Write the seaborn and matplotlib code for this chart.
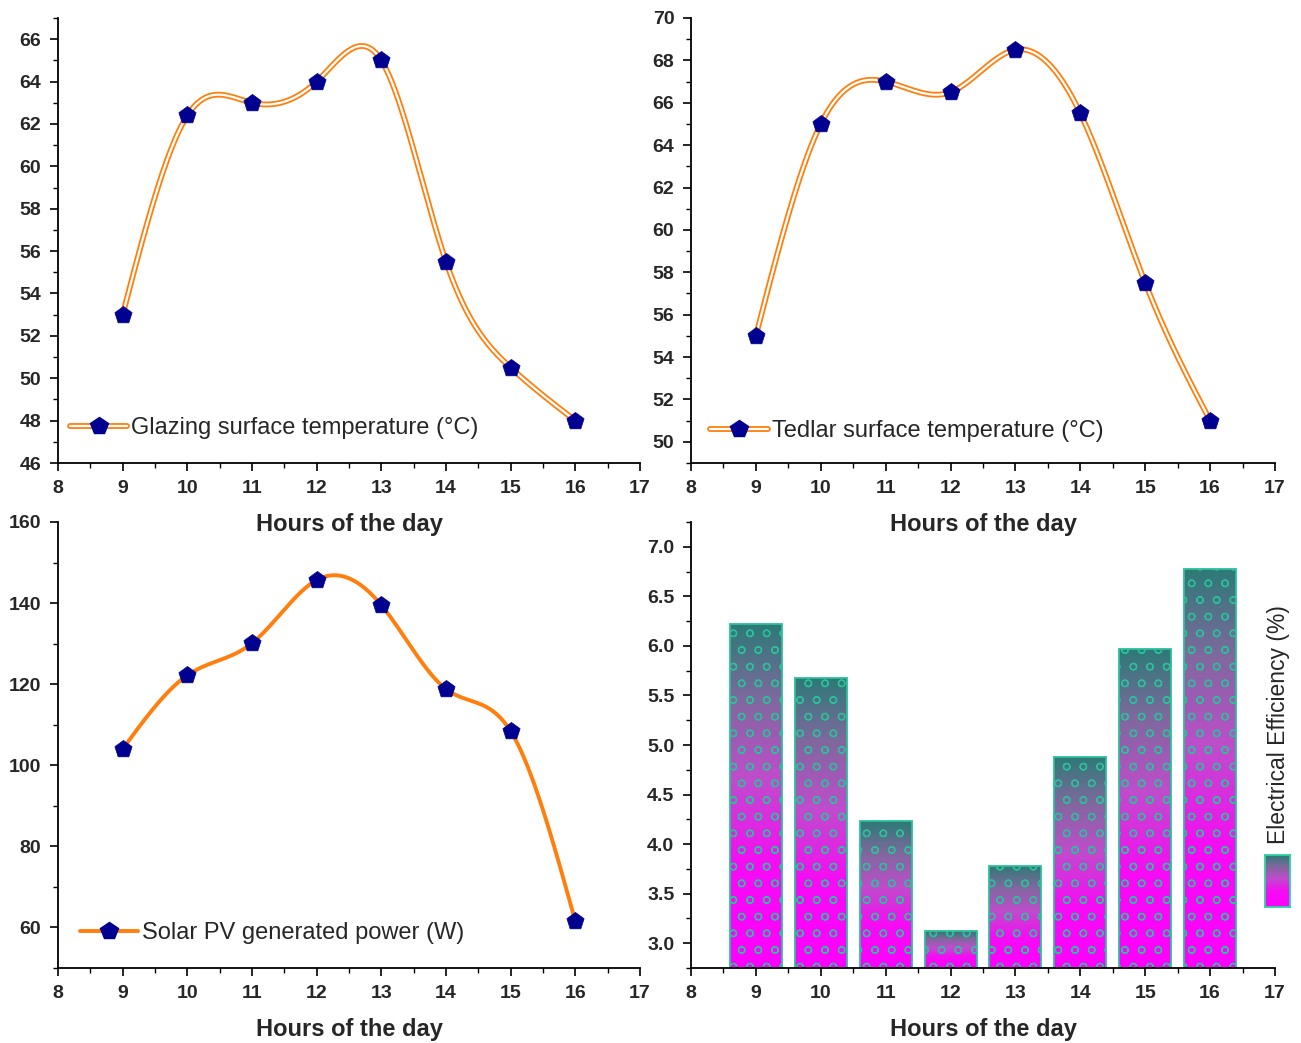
import numpy as np
import matplotlib
matplotlib.use("Agg")
import matplotlib.pyplot as plt
import seaborn as sns
import pandas as pd
from matplotlib.lines import Line2D
from matplotlib.legend_handler import HandlerTuple
from matplotlib.colors import LinearSegmentedColormap
from matplotlib.ticker import MultipleLocator, FormatStrFormatter

# ---------------- data ----------------
hours = [9, 10, 11, 12, 13, 14, 15, 16]
glazing_temp = [53.0, 62.4, 63.0, 64.0, 65.0, 55.5, 50.5, 48.0]
tedlar_temp = [55.0, 65.0, 67.0, 66.5, 68.5, 65.5, 57.5, 51.0]
pv_power = [104.0, 122.2, 130.1, 145.7, 139.5, 118.8, 108.4, 61.5]
efficiency = [6.22, 5.68, 4.23, 3.12, 3.78, 4.88, 5.97, 6.78]

label_glazing = "Glazing surface temperature (°C)"
label_tedlar = "Tedlar surface temperature (°C)"
label_power = "Solar PV generated power (W)"
label_eff = "Electrical Efficiency (%)"
xlabel = "Hours of the day"

sns.set_theme(style="white")
plt.rcParams["font.family"] = ["Liberation Sans", "DejaVu Sans"]
plt.rcParams["hatch.linewidth"] = 0.9

ORANGE = "#ff7f0e"
NAVY = "#000090"


def natural_spline(x, y, n=300):
    x = np.asarray(x, float)
    y = np.asarray(y, float)
    m = len(x)
    h = np.diff(x)
    A = np.zeros((m, m))
    b = np.zeros(m)
    A[0, 0] = A[-1, -1] = 1
    for i in range(1, m - 1):
        A[i, i - 1] = h[i - 1]
        A[i, i] = 2 * (h[i - 1] + h[i])
        A[i, i + 1] = h[i]
        b[i] = 3 * ((y[i + 1] - y[i]) / h[i] - (y[i] - y[i - 1]) / h[i - 1])
    c = np.linalg.solve(A, b)
    xs = np.linspace(x[0], x[-1], n)
    idx = np.clip(np.searchsorted(x, xs) - 1, 0, m - 2)
    dx = xs - x[idx]
    bb = (y[idx + 1] - y[idx]) / h[idx] - h[idx] * (2 * c[idx] + c[idx + 1]) / 3
    d = (c[idx + 1] - c[idx]) / (3 * h[idx])
    ys = y[idx] + bb * dx + c[idx] * dx ** 2 + d * dx ** 3
    return xs, ys


fig = plt.figure(figsize=(13.01, 10.43), dpi=100)
W, H = 1301, 1043


def ax_at(l, r, t, b):
    ax = fig.add_axes([l / W, 1 - b / H, (r - l) / W, (b - t) / H])
    ax.set_facecolor("none")
    return ax


ax1 = ax_at(58, 640, 18, 463)
ax2 = ax_at(691, 1275, 18, 463)
ax3 = ax_at(58, 640, 522, 968)
ax4 = ax_at(691, 1275, 522, 968)


def style_axis(ax, ylim, ymaj, ymin, fmt=None):
    ax.set_xlim(8, 17)
    ax.set_ylim(*ylim)
    ax.xaxis.set_major_locator(MultipleLocator(1))
    ax.xaxis.set_minor_locator(MultipleLocator(0.5))
    ax.yaxis.set_major_locator(MultipleLocator(ymaj))
    ax.yaxis.set_minor_locator(MultipleLocator(ymin))
    if fmt:
        ax.yaxis.set_major_formatter(FormatStrFormatter(fmt))
    for s in ["top", "right"]:
        ax.spines[s].set_visible(False)
    for s in ["left", "bottom"]:
        ax.spines[s].set_color("black")
        ax.spines[s].set_linewidth(1.3)
    ax.tick_params(which="major", direction="out", length=6, width=1.2,
                   color="black", labelsize=14, pad=6,
                   bottom=True, left=True)
    ax.tick_params(which="minor", direction="out", length=3.5, width=1.0,
                   color="black", bottom=True, left=True)
    for lab in ax.get_xticklabels() + ax.get_yticklabels():
        lab.set_fontweight("bold")
    ax.set_xlabel(xlabel, fontsize=17, fontweight="bold", labelpad=12)
    ax.set_ylabel("")
    ax.grid(False)


def line_panel(ax, yvals, label, double, ylim, ymaj, ymin, leg_anchor):
    xs, ys = natural_spline(hours, yvals)
    dfl = pd.DataFrame({"x": xs, "y": ys})
    sns.lineplot(data=dfl, x="x", y="y", ax=ax, color=ORANGE,
                 linewidth=4.2 if double else 2.8, zorder=2)
    if double:
        sns.lineplot(data=dfl, x="x", y="y", ax=ax, color="white",
                     linewidth=1.6, zorder=3)
    dfp = pd.DataFrame({"x": hours, "y": yvals})
    sns.scatterplot(data=dfp, x="x", y="y", ax=ax, marker="p", s=170,
                    color=NAVY, edgecolor=NAVY, linewidth=0.5, zorder=4)
    style_axis(ax, ylim, ymaj, ymin)
    if double:
        h = (Line2D([], [], color=ORANGE, lw=4.2),
             Line2D([], [], color="white", lw=1.6),
             Line2D([], [], ls="none", marker="p", ms=13, color=NAVY))
    else:
        h = (Line2D([], [], color=ORANGE, lw=2.8),
             Line2D([], [], ls="none", marker="p", ms=13, color=NAVY))
    ax.legend([h], [label], handler_map={tuple: HandlerTuple(ndivide=1)},
              loc="center left", bbox_to_anchor=leg_anchor, frameon=False,
              fontsize=17, handlelength=2.45, handletextpad=0.15,
              borderaxespad=0, borderpad=0)


line_panel(ax1, glazing_temp, label_glazing, True, (46, 67), 2, 1, (0.02, 0.079))
line_panel(ax2, tedlar_temp, label_tedlar, True, (49, 70), 2, 1, (0.033, 0.072))
line_panel(ax3, pv_power, label_power, False, (50, 160), 20, 10, (0.038, 0.078))

# ---------------- bar panel ----------------
cmap = LinearSegmentedColormap.from_list(
    "eff", [(0.0, "#ff00ff"), (0.3, "#f60cf4"), (0.55, "#c04ccc"),
            (0.78, "#80689e"), (1.0, "#2c7a76")])
dfb = pd.DataFrame({"hour": hours, "eff": efficiency})
sns.barplot(data=dfb, x="hour", y="eff", ax=ax4, native_scale=True,
            width=0.8, color="white", edgecolor="none", linewidth=0, zorder=1)
style_axis(ax4, (2.75, 7.25), 0.5, 0.25, fmt="%.1f")
ylo = 2.75
grad = np.linspace(0, 1, 256).reshape(-1, 1)
for p in list(ax4.patches):
    x0, w, top = p.get_x(), p.get_width(), p.get_height()
    im = ax4.imshow(grad, cmap=cmap, origin="lower", aspect="auto",
                    extent=[x0, x0 + w, ylo, top], zorder=1.5,
                    interpolation="bilinear")
    im.set_clip_path(p)
# hatch + edge overlay
sns.barplot(data=dfb, x="hour", y="eff", ax=ax4, native_scale=True,
            width=0.8, fill=False, edgecolor="#2bbf9a", linewidth=1.3,
            hatch="o", zorder=2)
ax4.set_xlim(8, 17)
ax4.set_ylim(2.75, 7.25)
ax4.set_ylabel("")
ax4.set_xlabel(xlabel, fontsize=17, fontweight="bold", labelpad=12)

# legend for bar panel (right side)
fig.text(1278 / W, 1 - 725 / H, label_eff, rotation=90, fontsize=16.5,
         ha="center", va="center")
lax = fig.add_axes([1265 / W, 1 - 907 / H, 25 / W, 52 / H])
lax.imshow(grad, cmap=cmap, origin="lower", aspect="auto",
           extent=[0, 1, 0, 1])
lax.set_xticks([])
lax.set_yticks([])
for s in lax.spines.values():
    s.set_color("#2bd69e")
    s.set_linewidth(1.3)

fig.savefig("out.png", dpi=100, facecolor="white")
